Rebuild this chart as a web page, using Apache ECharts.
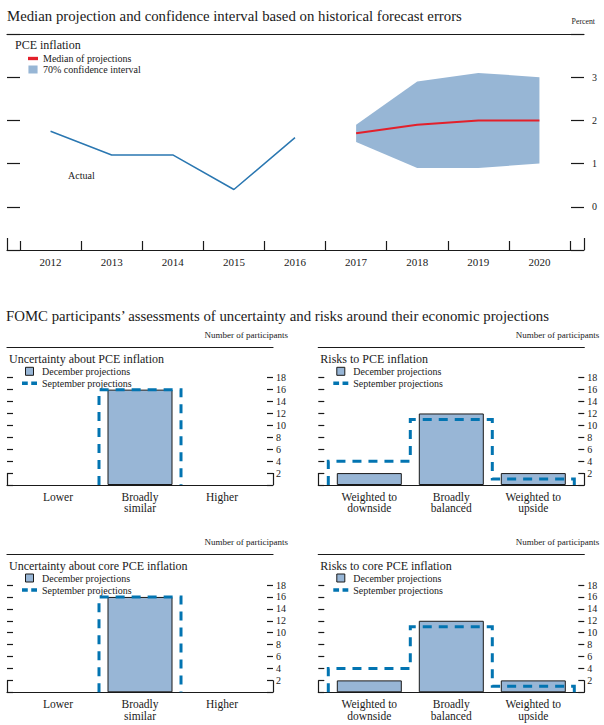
<!DOCTYPE html>
<html><head><meta charset="utf-8">
<script src="https://cdn.jsdelivr.net/npm/echarts@6/dist/echarts.min.js"></script>
<style>html,body{margin:0;padding:0;background:#fff}#c{width:604px;height:725px}</style>
</head><body><div id="c"></div>
<script>
// ---------- data ----------
var years = ['2012','2013','2014','2015','2016','2017','2018','2019','2020'];
var actual = [1.75, 1.2, 1.2, 0.4, 1.6, null, null, null, null];
var median = [null, null, null, null, null, 1.7, 1.9, 2.0, 2.0];
var bandLow = [null, null, null, null, null, 1.5, 0.9, 0.9, 1.0];
var bandHigh = [null, null, null, null, null, 1.9, 2.9, 3.1, 3.0];

var uncCats = ['Lower', 'Broadly\nsimilar', 'Higher'];
var riskCats = ['Weighted to\ndownside', 'Broadly\nbalanced', 'Weighted to\nupside'];
var uncPceDec = [0, 16, 0];
var uncPceSep = [0, 16, 0];
var riskPceDec = [2, 12, 2];
var riskPceSep = [4, 11, 1];
var uncCoreDec = [0, 16, 0];
var uncCoreSep = [0, 16, 0];
var riskCoreDec = [2, 12, 2];
var riskCoreSep = [4, 11, 1];

// ---------- style ----------
var SERIF = "'Liberation Serif','DejaVu Serif',serif";
var INK = '#1a1a1a';
var BAR = '#98b6d6';
var DASH = '#0274b1';
var BAND = '#97b6d5';
var ACT = '#2a77b1';
var MED = '#e3202b';

var chart = echarts.init(document.getElementById('c'), null, {renderer: 'svg'});
var grid = [], xAxis = [], yAxis = [], series = [], legend = [], graphic = [];

function txt(x, y, text, size, align) {
  graphic.push({type: 'text', x: x, y: y, silent: true,
    style: {text: text, fontSize: size, fontFamily: SERIF, fill: INK, align: align || 'left', verticalAlign: 'middle'}});
}

function frame(left, width, top, height, tickLen) {
  var gi = grid.length;
  grid.push({left: left, width: width, top: top, height: height});
  xAxis.push({type: 'value', gridIndex: gi, min: 0, max: 1, interval: 1, position: 'bottom',
    axisLine: {show: true, onZero: false, lineStyle: {color: INK, width: 1.2}},
    axisTick: {show: true, inside: true, length: tickLen, lineStyle: {color: INK, width: 1.2}},
    axisLabel: {show: false}, splitLine: {show: false}});
  xAxis.push({type: 'value', gridIndex: gi, min: 0, max: 1, position: 'top',
    axisLine: {show: true, onZero: false, lineStyle: {color: INK, width: 1.2}},
    axisTick: {show: false}, axisLabel: {show: false}, splitLine: {show: false}});
  yAxis.push({type: 'value', gridIndex: gi, show: false, min: 0, max: 1});
}

function mainGrid(o) {
  var gi = grid.length;
  grid.push({left: o.left, width: o.width, top: o.top, height: o.height});
  var xi = xAxis.length;
  xAxis.push({type: 'category', gridIndex: gi, data: o.cats, boundaryGap: true, position: 'bottom',
    axisLine: {show: false, onZero: false},
    axisTick: {show: !!o.catTick, inside: true, length: o.catTick || 0, lineStyle: {color: INK, width: 1.2}},
    axisLabel: {show: true, margin: o.labelMargin, fontFamily: SERIF, fontSize: o.catFont, lineHeight: o.catFont, color: INK, interval: 0},
    splitLine: {show: false}});
  var yi = yAxis.length;
  var tickStyle = {show: true, inside: true, length: o.yTick, lineStyle: {color: INK, width: 1.2}};
  yAxis.push({type: 'value', gridIndex: gi, position: 'left', offset: o.offL, min: o.ymin, max: o.ymax, interval: o.interval,
    axisLine: {show: false, onZero: false}, axisTick: tickStyle, axisLabel: {show: false}, splitLine: {show: false}});
  yAxis.push({type: 'value', gridIndex: gi, position: 'right', offset: o.offR, min: o.ymin, max: o.ymax, interval: o.interval,
    axisLine: {show: false, onZero: false}, axisTick: tickStyle,
    axisLabel: {show: true, margin: o.yLabelMargin, fontFamily: SERIF, fontSize: 10, color: INK,
      formatter: function (v) { return (v >= o.lblMin && v <= o.lblMax) ? String(v) : ''; }},
    splitLine: {show: false}});
  return {xi: xi, yi: yi};
}

// ---------- top chart ----------
txt(7, 16, 'Median projection and confidence interval based on historical forecast errors', 14.8);
txt(595, 21, 'Percent', 7.8, 'right');
txt(15, 45, 'PCE inflation', 12);
txt(68, 175, 'Actual', 10);

frame(7, 577, 34, 216, 12);
var pce = mainGrid({left: 20, width: 550, top: 34, height: 216, cats: years, ymin: -1, ymax: 4, interval: 1,
  offL: 13, offR: 14, yTick: 13, yLabelMargin: 8, lblMin: 0, lblMax: 3, catTick: 9, labelMargin: 6, catFont: 11});

series.push({type: 'line', name: 'band low', xAxisIndex: pce.xi, yAxisIndex: pce.yi, data: bandLow, stack: 'band',
  symbol: 'none', lineStyle: {width: 0, opacity: 0}, silent: true, z: 2});
series.push({type: 'line', name: '70% confidence interval', xAxisIndex: pce.xi, yAxisIndex: pce.yi,
  data: bandHigh.map(function (h, i) { return h == null ? null : +(h - bandLow[i]).toFixed(2); }), stack: 'band',
  symbol: 'none', lineStyle: {width: 0, opacity: 0}, areaStyle: {color: BAND, opacity: 1}, itemStyle: {color: BAND}, silent: true, z: 2});
series.push({type: 'line', name: 'Actual', xAxisIndex: pce.xi, yAxisIndex: pce.yi, data: actual, symbol: 'none',
  lineStyle: {color: ACT, width: 1.5}, itemStyle: {color: ACT}, silent: true, z: 4});
series.push({type: 'line', name: 'Median of projections', xAxisIndex: pce.xi, yAxisIndex: pce.yi, data: median, symbol: 'none',
  lineStyle: {color: MED, width: 2}, itemStyle: {color: MED}, silent: true, z: 5});

legend.push({left: 28, top: 53.5, orient: 'vertical', itemWidth: 10, itemHeight: 8, itemGap: 1, padding: 0, selectedMode: false,
  textStyle: {fontFamily: SERIF, fontSize: 10, color: INK, lineHeight: 10},
  data: [
    {name: 'Median of projections', icon: 'path://M0,0h9v3h-9z', itemStyle: {color: MED, borderWidth: 0}},
    {name: '70% confidence interval', icon: 'path://M0,0h8v7h-8z', itemStyle: {color: BAND, borderWidth: 0, opacity: 1}}
  ]});

// ---------- bottom panels ----------
txt(6, 316, 'FOMC participants\u2019 assessments of uncertainty and risks around their economic projections', 14.8);

// September outline: one continuous dashed step path drawn through the axes' scales
function stepRender(vals) {
  return function (params, api) {
    var n = vals.length;
    if (params.dataIndex !== n - 1) return {type: 'group', children: []};
    var w = api.size([1, 0])[0];
    var lines = [], cur = null;
    for (var k = 0; k < n; k++) {
      var v = vals[k];
      var cx = api.coord([k, 0])[0];
      var y0 = api.coord([k, 0])[1];
      var xL = cx - w / 2, xR = cx + w / 2;
      if (v > 0) {
        var yv = api.coord([k, v])[1];
        if (!cur) cur = [[xL, y0]];
        cur.push([xL, yv], [xR, yv]);
      } else if (cur) {
        cur.push([xL, y0]); lines.push(cur); cur = null;
      }
      if (k === n - 1 && cur) { cur.push([xR, y0]); lines.push(cur); cur = null; }
    }
    var st = {stroke: DASH, lineWidth: 3, lineDash: [9, 7], fill: 'none', lineJoin: 'miter'};
    return {type: 'group', children: lines.map(function (p) {
      return {type: 'polyline', shape: {points: p}, style: st};
    })};
  };
}

function panel(fx, rule, base, title, cats, dec, sep) {
  var unit = 5.96;
  txt(fx + 281, rule - 12, 'Number of participants', 9, 'right');
  txt(fx + 2, rule + 12, title, 12);
  frame(fx, 266, rule, base - rule, 12);
  var g = mainGrid({left: fx + 10, width: 246, top: base - 18 * unit, height: 18 * unit, cats: cats,
    ymin: 0, ymax: 18, interval: 2, offL: 10, offR: 10, yTick: 6, yLabelMargin: 3, lblMin: 2, lblMax: 18,
    catTick: 0, labelMargin: 6, catFont: 11.5});
  series.push({type: 'bar', name: 'December projections', xAxisIndex: g.xi, yAxisIndex: g.yi,
    data: dec.map(function (v) { return v > 0 ? v : null; }), barWidth: 65,
    itemStyle: {color: BAR, borderColor: INK, borderWidth: 1}, silent: true, z: 3});
  series.push({type: 'custom', name: 'September projections', xAxisIndex: g.xi, yAxisIndex: g.yi,
    data: sep.map(function (v, i) { return [i, v]; }), encode: {x: 0, y: 1}, clip: false,
    itemStyle: {color: DASH}, renderItem: stepRender(sep), silent: true, z: 5});
  legend.push({left: fx + 15, top: rule + 19, orient: 'vertical', itemWidth: 15, itemHeight: 8, itemGap: 2, padding: 0,
    selectedMode: false, textStyle: {fontFamily: SERIF, fontSize: 10, color: INK, lineHeight: 10},
    data: [
      {name: 'December projections', icon: 'path://M0,0h8v8h-8z', itemStyle: {color: BAR, borderColor: INK, borderWidth: 1}},
      {name: 'September projections', icon: 'path://M0,0h5v3h-5zM8,0h5v3h-5z', itemStyle: {color: DASH, borderWidth: 0}}
    ]});
}

panel(7, 347.3, 485, 'Uncertainty about PCE inflation', uncCats, uncPceDec, uncPceSep);
panel(318.3, 347.3, 485, 'Risks to PCE inflation', riskCats, riskPceDec, riskPceSep);
panel(7, 554, 692.3, 'Uncertainty about core PCE inflation', uncCats, uncCoreDec, uncCoreSep);
panel(318.3, 554, 692.3, 'Risks to core PCE inflation', riskCats, riskCoreDec, riskCoreSep);

chart.setOption({
  animation: false,
  backgroundColor: '#fff',
  grid: grid, xAxis: xAxis, yAxis: yAxis, series: series, legend: legend, graphic: graphic
});
</script>
</body></html>
